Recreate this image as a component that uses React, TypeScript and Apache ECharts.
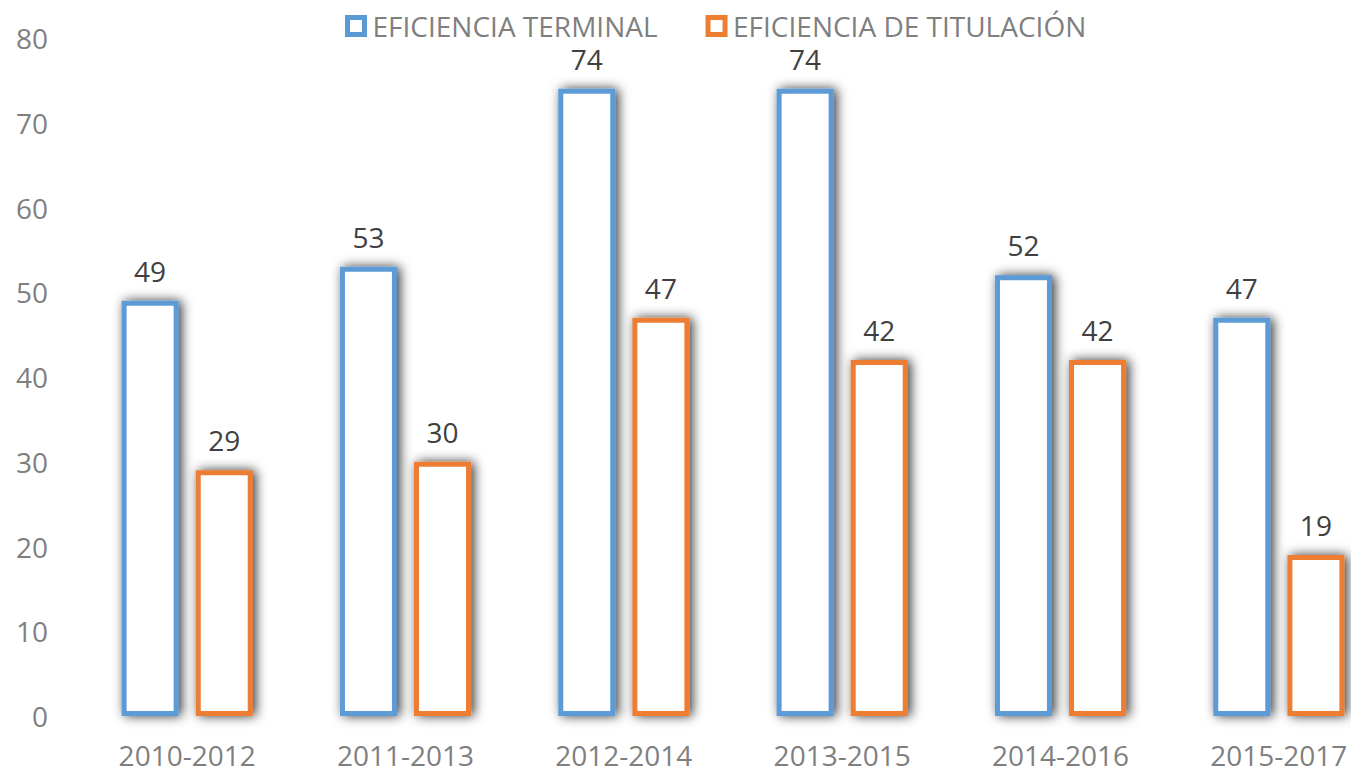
import React, { useEffect, useRef } from "react";
import * as echarts from "echarts";

const categories = ["2010-2012", "2011-2013", "2012-2014", "2013-2015", "2014-2016", "2015-2017"];
const terminal = [49, 53, 74, 74, 52, 47];
const titulacion = [29, 30, 47, 42, 42, 19];
const seriesNames = ["EFICIENCIA TERMINAL", "EFICIENCIA DE TITULACIÓN"];
const colors = ["#5B9BD5", "#ED7D31"];

const FONT = "Open Sans";

export default function App() {
  const ref = useRef<HTMLDivElement>(null);
  useEffect(() => {
    document.body.style.margin = "0";
    const chart = echarts.init(ref.current!, null, { renderer: "svg" });
    const mkSeries = (name: string, data: number[], color: string) => ({
      name,
      type: "bar",
      data,
      barWidth: 57,
      barGap: "30%",
      itemStyle: {
        color: "#ffffff",
        borderColor: color,
        borderWidth: 5,
        shadowBlur: 12,
        shadowColor: "rgba(0,0,0,0.8)",
        shadowOffsetX: 3,
        shadowOffsetY: 0,
      },
      label: {
        show: true,
        position: "top",
        distance: 16,
        color: "#404040",
        fontFamily: FONT,
        fontSize: 28,
        lineHeight: 28,
      },
    });
    chart.setOption({
      animation: false,
      backgroundColor: "#ffffff",
      legend: {
        left: 340,
        top: 10,
        padding: [2, 5, 2, 5],
        itemWidth: 17,
        itemHeight: 17,
        itemGap: 48,
        textStyle: { color: "#7f7f7f", fontFamily: FONT, fontSize: 28, lineHeight: 26, padding: [0, 0, 0, 3] },
        data: seriesNames.map((n, i) => ({
          name: n,
          icon: "rect",
          itemStyle: { color: "#ffffff", borderColor: colors[i], borderWidth: 5, shadowBlur: 0, shadowOffsetX: 0, shadowOffsetY: 0 },
        })),
      },
      grid: { left: 78, top: 38, width: 1310, height: 678, outerBoundsMode: "none", containLabel: false },
      xAxis: {
        type: "category",
        data: categories,
        axisLine: { show: false },
        axisTick: { show: false },
        axisLabel: { color: "#7f7f7f", fontFamily: FONT, fontSize: 28, margin: 25 },
      },
      yAxis: {
        type: "value",
        min: 0,
        max: 80,
        interval: 10,
        axisLine: { show: false },
        axisTick: { show: false },
        splitLine: { show: false },
        axisLabel: { color: "#7f7f7f", fontFamily: FONT, fontSize: 28, margin: 30 },
      },
      series: [
        mkSeries(seriesNames[0], terminal, colors[0]),
        mkSeries(seriesNames[1], titulacion, colors[1]),
      ],
    });
    return () => chart.dispose();
  }, []);
  return <div ref={ref} style={{ width: 1351, height: 773 }} />;
}
